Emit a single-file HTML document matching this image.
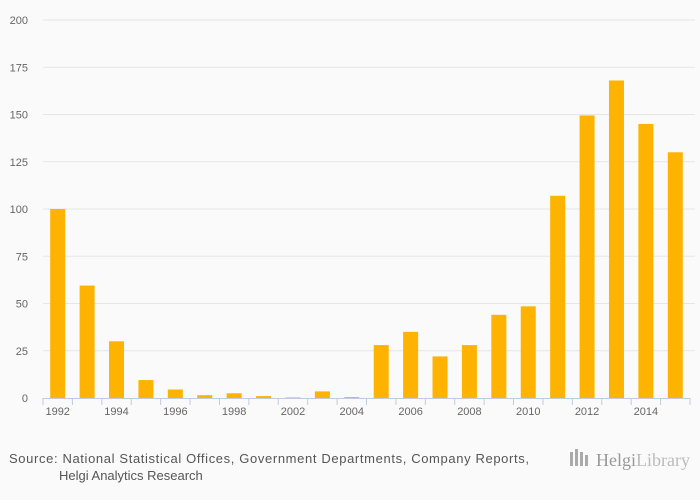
<!DOCTYPE html>
<html><head><meta charset="utf-8"><style>
body{margin:0;background:#fafafa;}
svg{display:block;font-family:"Liberation Sans",sans-serif;}
</style></head><body>
<svg id="chart" width="700" height="500">
<rect width="700" height="500" fill="#fafafa"/>
<g id="grid"></g><g id="bars"></g><g id="axis"></g>
<text x="9" y="463" font-size="13" fill="#555" textLength="520">Source: National Statistical Offices, Government Departments, Company Reports,</text>
<text x="59" y="480" font-size="13" fill="#555">Helgi Analytics Research</text>
<g>
<rect x="570" y="452" width="3" height="14" fill="#aaa"/><rect x="575" y="449" width="3" height="17" fill="#aaa"/><rect x="580" y="452" width="3" height="14" fill="#aaa"/><rect x="585" y="455" width="3" height="11" fill="#aaa"/>
<text x="596" y="466" font-size="18" fill="#999" font-family="Liberation Serif,serif">Helgi<tspan fill="#bbb">Library</tspan></text>
</g>
</svg>
<script>
const categories=["1992","1993","1994","1995","1996","1997","1998","2000","2002","2003","2004","2005","2006","2007","2008","2009","2010","2011","2012","2013","2014","2015"];
const values=[100,59.5,30,9.5,4.5,1.5,2.5,1,0.3,3.5,0.5,28,35,22,28,44,48.5,107,149.5,168,145,130];
const yTicks=[0,25,50,75,100,125,150,175,200];
const NS="http://www.w3.org/2000/svg";
const x0=43,x1=690,y0=398,y1=20,ymax=200;
const band=(x1-x0)/categories.length;
const y=v=>y0-(v/ymax)*(y0-y1);
function mk(t,a,p){const e=document.createElementNS(NS,t);for(const k in a)e.setAttribute(k,a[k]);p.appendChild(e);return e;}
const grid=document.getElementById('grid'),bars=document.getElementById('bars'),axis=document.getElementById('axis');
yTicks.forEach(t=>{
 if(t>0){const l=mk('line',{x1:x0,x2:x1+5,y1:y(t),y2:y(t),stroke:'#e6e6e6'},grid);
 
 }
 const tx=mk('text',{x:28,y:y(t)+4,'text-anchor':'end','font-size':11,fill:'#666'},axis);tx.textContent=t;
 
 
});
values.forEach((v,i)=>{
 const cx=x0+band*(i+0.5);
 const r=mk('rect',{x:cx-7.5,y:y(v),width:15,height:y0-y(v),fill:v<0.4?'#aab8e0':'#fdb300'},bars);
 
 
 if(i%2===0){const tx=mk('text',{x:cx,y:y0+17,'text-anchor':'middle','font-size':11,fill:'#666'},axis);tx.textContent=categories[i];
 
 }
});
const ax=mk('line',{x1:x0,x2:x1,y1:y0+0.5,y2:y0+0.5,stroke:'#c0cbe0'},axis);


for(let i=0;i<=categories.length;i++){const xx=x0+band*i;
 const t=mk('line',{x1:xx,x2:xx,y1:y0,y2:y0+7,stroke:'#c0cbe0'},axis);
 
 }
</script>
</body></html>
